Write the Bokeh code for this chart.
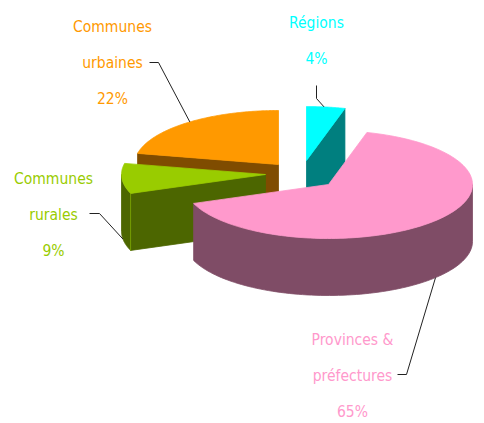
import numpy as np
from bokeh.core.properties import value
from bokeh.embed import file_html
from bokeh.models import ColumnDataSource, Range1d
from bokeh.plotting import figure
from bokeh.resources import INLINE

# data (clockwise from twelve o'clock)
names = ["Régions", "Provinces & préfectures", "Communes rurales", "Communes urbaines"]
shares = [4.3, 65.0, 9.0, 21.7]
pct_labels = ["4%", "65%", "9%", "22%"]
label_lines = [["Régions", "4%"], ["Provinces &", "préfectures", "65%"],
               ["Communes", "rurales", "9%"], ["Communes", "urbaines", "22%"]]
top_colors = ["#00FFFF", "#FF99CC", "#99CC00", "#FF9900"]
side_colors = ["#007F7F", "#7F4C66", "#4C6600", "#7F4C00"]

# layout: screen pixels of the 484x423 window
RX, RY, DEPTH = 144, 54, 57
apex = [(306, 160), (328, 184), (265, 174), (278, 164)]
label_xy = [(316, 22), (352, 339), (53, 178), (112, 26)]
LINE_STEP = 36
leader_from = [(316, 85), (397, 374), (89, 213), (149, 62)]
leader_elbow = [(316, 98), (406, 374), (99, 213), (158, 62)]
leader_angle = [7, 132, 262, 322]
draw_order = [3, 0, 2, 1]

W, H = 484, 423
p = figure(width=W, height=H, output_backend="svg", toolbar_location=None,
           x_range=Range1d(0, W), y_range=Range1d(H, 0),
           min_border=0, outline_line_color=None, background_fill_color="white")
p.axis.visible = False
p.grid.visible = False

edges = np.concatenate([[0], np.cumsum(shares)]) / np.sum(shares) * 360.0


def rim(center, deg, drop=0):
    a = np.radians(deg)
    return center[0] + RX * np.sin(a), center[1] - RY * np.cos(a) + drop


def add_patch(xs, ys, color):
    p.patch(list(xs), list(ys), fill_color=color, line_color=color, line_width=0.8)


for i in draw_order:
    start, end, c = edges[i], edges[i + 1], apex[i]
    for ang, visible in ((start, np.sin(np.radians(start)) < -1e-6),
                         (end, np.sin(np.radians(end)) > 1e-6)):
        if visible:
            ex, ey = rim(c, ang)
            add_patch([c[0], ex, ex, c[0]], [c[1], ey, ey + DEPTH, c[1] + DEPTH], side_colors[i])
    lo, hi = max(start, 90), min(end, 270)
    if hi > lo:
        t = np.linspace(lo, hi, 90)
        x0, y0 = rim(c, t)
        x1, y1 = rim(c, t[::-1], DEPTH)
        add_patch(np.r_[x0, x1], np.r_[y0, y1], side_colors[i])
    if i == 2:  # light vertical edge between the rural slice's rim and its cut face
        ex, ey = rim(c, start)
        p.line([ex, ex], [ey, ey + DEPTH], line_color=top_colors[i], line_width=1, line_alpha=0.55)
    t = np.linspace(start, end, 140)
    xt, yt = rim(c, t)
    add_patch(np.r_[c[0], xt], np.r_[c[1], yt], top_colors[i])

# leader lines
for i in range(4):
    drop = DEPTH if 90 < leader_angle[i] < 270 else 0
    ex, ey = rim(apex[i], leader_angle[i], drop)
    p.line([leader_from[i][0], leader_elbow[i][0], ex],
           [leader_from[i][1], leader_elbow[i][1], ey],
           line_color="#222222", line_width=1)

# labels
tx, ty, tt, tc = [], [], [], []
for i in range(4):
    for k, s in enumerate(label_lines[i]):
        tx.append(label_xy[i][0])
        ty.append(label_xy[i][1] + k * LINE_STEP)
        tt.append(s)
        tc.append(top_colors[i])
p.text(x="x", y="y", text="t", text_color="c",
       source=ColumnDataSource(dict(x=tx, y=ty, t=tt, c=tc)),
       text_font=value("DejaVu Sans Condensed, Lato"), text_font_size="15.5px",
       text_align="center", text_baseline="middle")

open("out.html", "w").write(file_html(p, INLINE))
